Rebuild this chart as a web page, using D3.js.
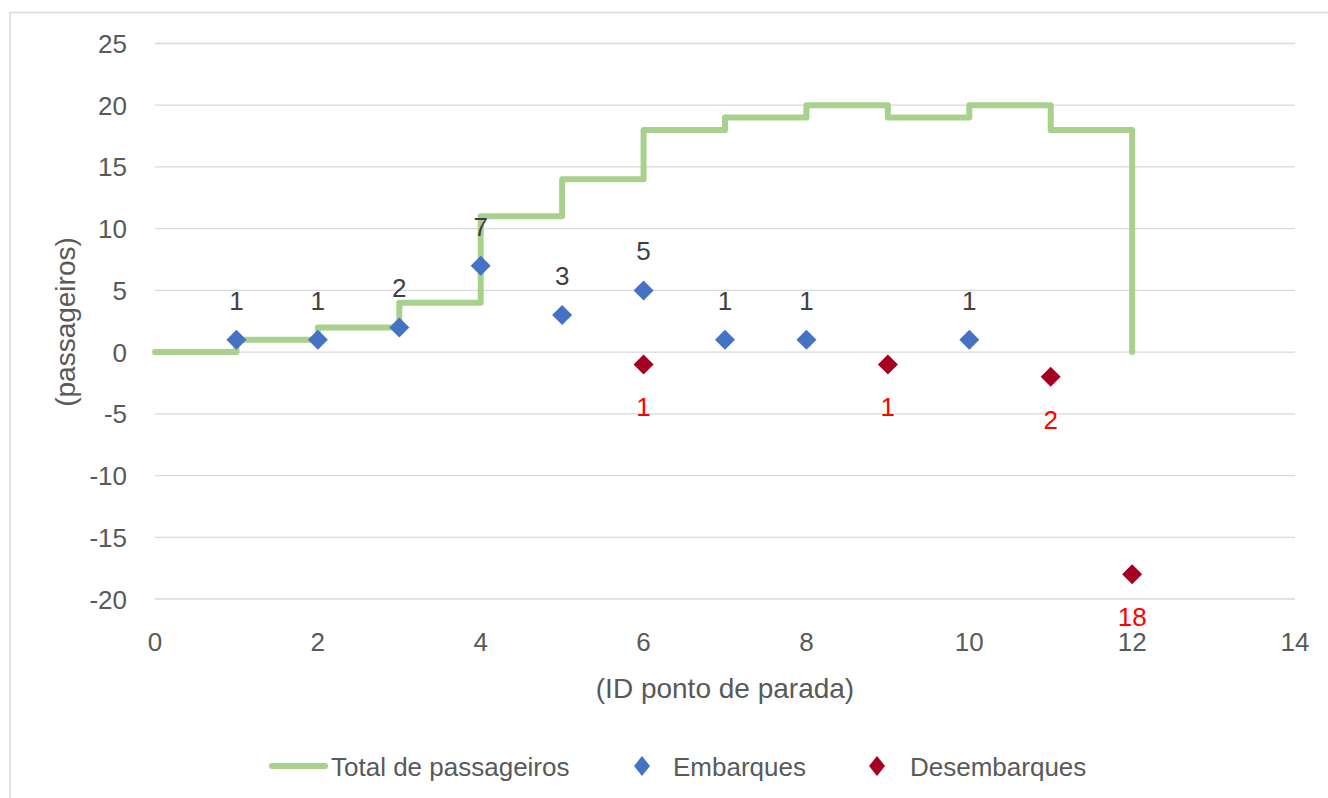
<!DOCTYPE html>
<html>
<head>
<meta charset="utf-8">
<script src="https://cdn.jsdelivr.net/npm/d3@7"></script>
<style>
  html, body { margin: 0; padding: 0; background: #fff; }
  svg { display: block; }
  text { font-family: "Liberation Sans", Arial, sans-serif; }
</style>
</head>
<body>
<svg id="chart" width="1328" height="798"></svg>
<script>
// ---- data ----
const stopIds = [0, 1, 2, 3, 4, 5, 6, 7, 8, 9, 10, 11, 12];
const totalPassengers = [0, 1, 2, 4, 11, 14, 18, 19, 20, 19, 20, 18, 0];
const boardX = [1, 2, 3, 4, 5, 6, 7, 8, 10];
const boardY = [1, 1, 2, 7, 3, 5, 1, 1, 1];
const alightX = [6, 9, 11, 12];
const alightY = [-1, -1, -2, -18];
const xTicks = [0, 2, 4, 6, 8, 10, 12, 14];
const yTicks = [-20, -15, -10, -5, 0, 5, 10, 15, 20, 25];
const xTitle = "(ID ponto de parada)";
const yTitle = "(passageiros)";
const legendLabels = ["Total de passageiros", "Embarques", "Desembarques"];

// ---- styles ----
const GREEN = "#a9d18e", BLUE = "#4472c4", DARKRED = "#a50021";
const GRID = "#d9d9d9", TXT = "#595959";

const svg = d3.select("#chart");
const x = d3.scaleLinear().domain([0, 14]).range([155, 1295]);
const y = d3.scaleLinear().domain([-20, 25]).range([599, 43.5]);

// outer chart border
svg.append("rect").attr("x", 10).attr("y", 12.5).attr("width", 1340).attr("height", 800)
  .attr("fill", "none").attr("stroke", GRID).attr("stroke-width", 1.5);

// gridlines
svg.append("g").selectAll("line").data(yTicks).join("line")
  .attr("x1", x(0)).attr("x2", x(14))
  .attr("y1", d => y(d)).attr("y2", d => y(d))
  .attr("stroke", GRID).attr("stroke-width", 1.3);

// y tick labels
svg.append("g").selectAll("text").data(yTicks).join("text")
  .attr("x", 127).attr("y", d => y(d) + 9.5)
  .attr("text-anchor", "end").attr("font-size", 26).attr("fill", TXT)
  .text(d => d);

// x tick labels
svg.append("g").selectAll("text").data(xTicks).join("text")
  .attr("x", d => x(d)).attr("y", 651)
  .attr("text-anchor", "middle").attr("font-size", 26).attr("fill", TXT)
  .text(d => d);

// axis titles
svg.append("text").attr("x", (x(0) + x(14)) / 2).attr("y", 698)
  .attr("text-anchor", "middle").attr("font-size", 28).attr("fill", TXT).text(xTitle);
svg.append("text").attr("transform", `translate(75,${322}) rotate(-90)`)
  .attr("text-anchor", "middle").attr("font-size", 28).attr("fill", TXT).text(yTitle);

// step line
const totals = stopIds.map((v, i) => ({x: v, y: totalPassengers[i]}));
const line = d3.line().x(d => x(d.x)).y(d => y(d.y)).curve(d3.curveStepAfter);
svg.append("path").datum(totals).attr("d", line)
  .attr("fill", "none").attr("stroke", GREEN).attr("stroke-width", 6)
  .attr("stroke-linejoin", "round").attr("stroke-linecap", "round");

// data labels
const boards = boardX.map((v, i) => ({x: v, y: boardY[i]}));
const alights = alightX.map((v, i) => ({x: v, y: alightY[i]}));
svg.append("g").selectAll("text").data(boards).join("text")
  .attr("x", d => x(d.x)).attr("y", d => y(d.y) - 30)
  .attr("text-anchor", "middle").attr("font-size", 26).attr("fill", "#404040")
  .text(d => d.y);
svg.append("g").selectAll("text").data(alights).join("text")
  .attr("x", d => x(d.x)).attr("y", d => y(d.y) + 52)
  .attr("text-anchor", "middle").attr("font-size", 26).attr("fill", "#ff0000")
  .text(d => Math.abs(d.y));

// diamonds
function diamond(hw, hh) { return `M0,${-hh}L${hw},0L0,${hh}L${-hw},0Z`; }
svg.append("g").selectAll("path").data(boards).join("path")
  .attr("d", diamond(10, 10))
  .attr("transform", d => `translate(${x(d.x)},${y(d.y)})`)
  .attr("fill", BLUE);
svg.append("g").selectAll("path").data(alights).join("path")
  .attr("d", diamond(10, 10))
  .attr("transform", d => `translate(${x(d.x)},${y(d.y)})`)
  .attr("fill", DARKRED);

// legend
const lg = svg.append("g");
const ly = 766;
lg.append("line").attr("x1", 272).attr("x2", 325).attr("y1", ly).attr("y2", ly)
  .attr("stroke", GREEN).attr("stroke-width", 6).attr("stroke-linecap", "round");
lg.append("text").attr("x", 331).attr("y", ly + 9.5).attr("font-size", 26).attr("fill", TXT).text(legendLabels[0]);
lg.append("path").attr("d", diamond(8, 10)).attr("transform", `translate(642,${ly})`).attr("fill", BLUE);
lg.append("text").attr("x", 673).attr("y", ly + 9.5).attr("font-size", 26).attr("fill", TXT).text(legendLabels[1]);
lg.append("path").attr("d", diamond(8, 10)).attr("transform", `translate(877,${ly})`).attr("fill", DARKRED);
lg.append("text").attr("x", 910).attr("y", ly + 9.5).attr("font-size", 26).attr("fill", TXT).text(legendLabels[2]);
</script>
</body>
</html>
